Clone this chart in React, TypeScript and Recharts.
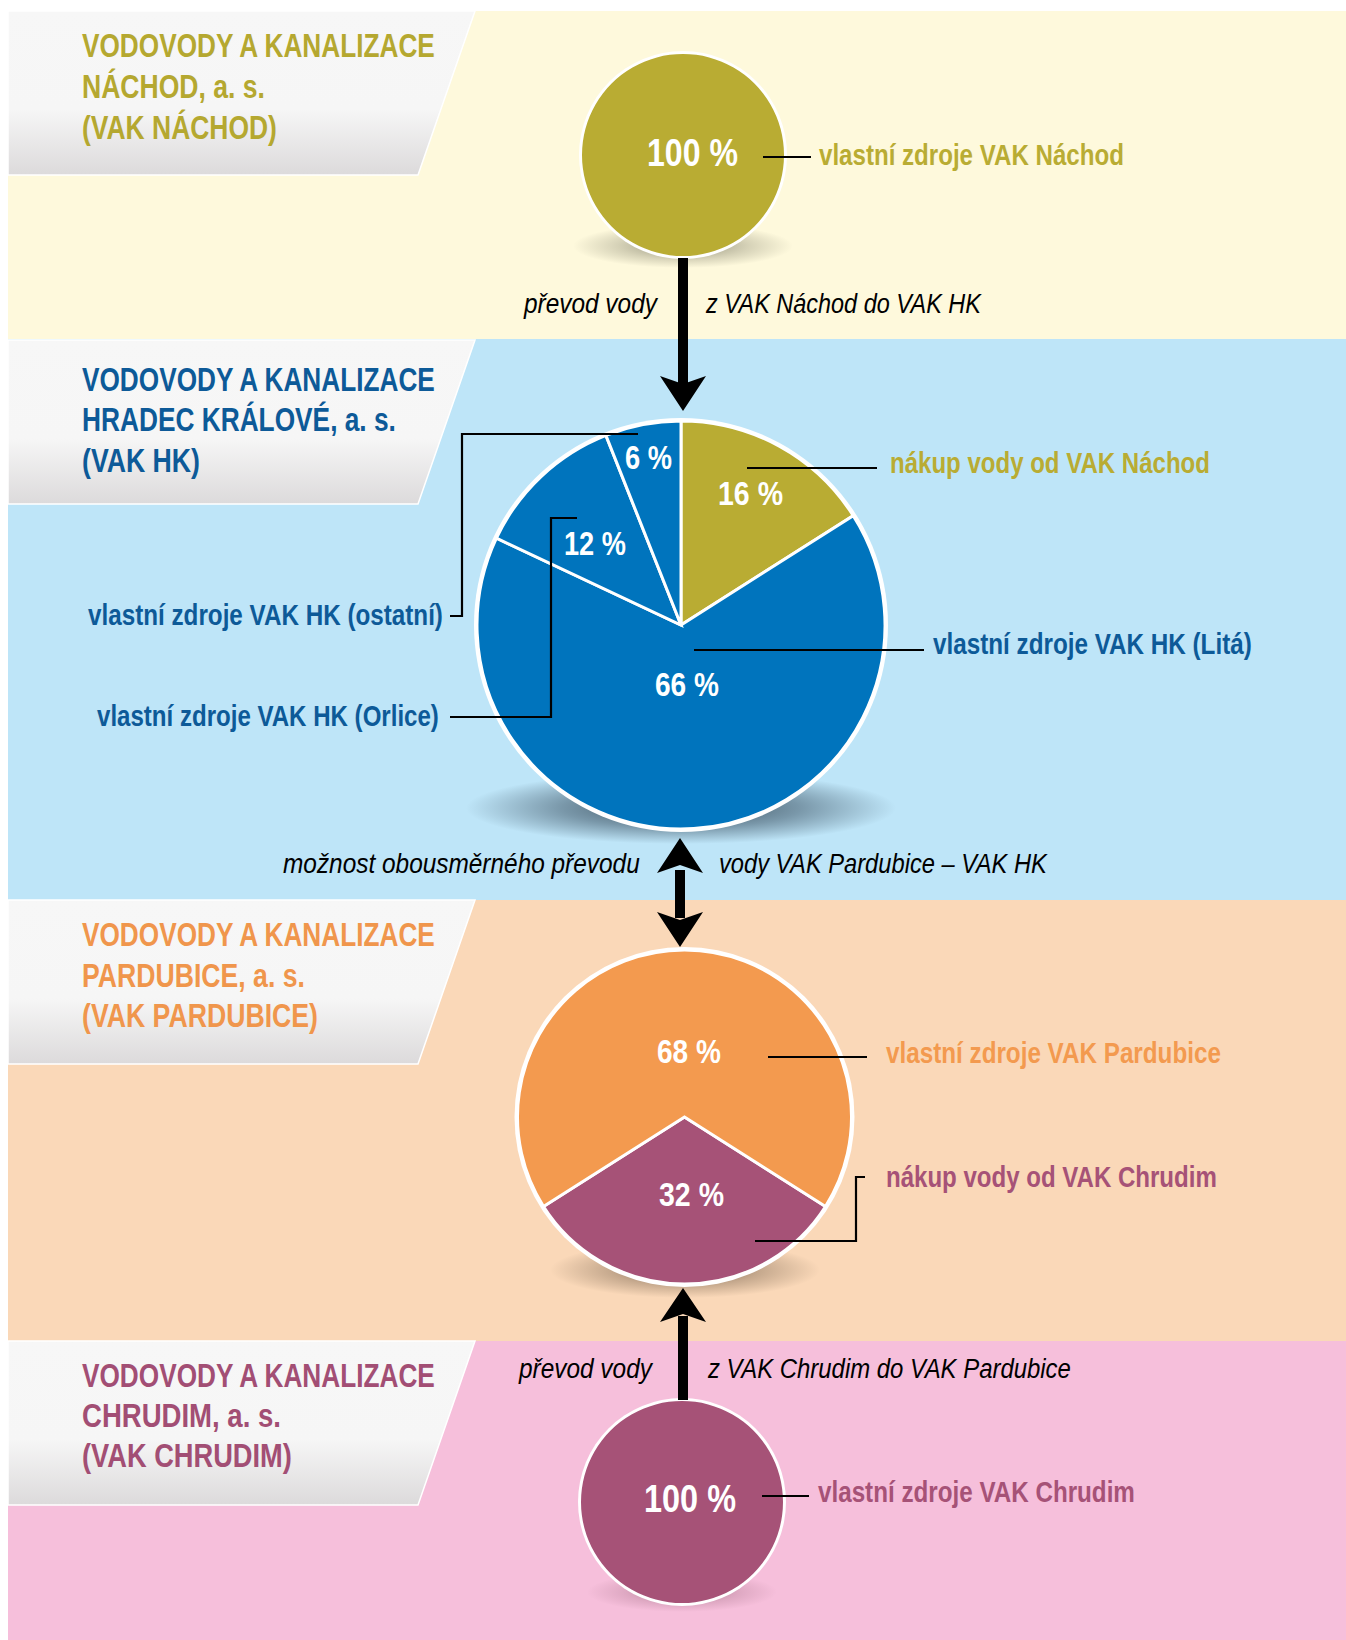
import React, { useLayoutEffect, useRef, useState } from 'react';
import { PieChart, Pie, Cell } from 'recharts';

// ---------- DATA ----------
const NACHOD_CATEGORIES = ['vlastní zdroje VAK Náchod'];
const NACHOD_VALUES = [100];

const HK_CATEGORIES = [
  'nákup vody od VAK Náchod',
  'vlastní zdroje VAK HK (Litá)',
  'vlastní zdroje VAK HK (Orlice)',
  'vlastní zdroje VAK HK (ostatní)',
];
const HK_VALUES = [16, 66, 12, 6];

const PARDUBICE_CATEGORIES = ['nákup vody od VAK Chrudim', 'vlastní zdroje VAK Pardubice'];
const PARDUBICE_VALUES = [32, 68];

const CHRUDIM_CATEGORIES = ['vlastní zdroje VAK Chrudim'];
const CHRUDIM_VALUES = [100];

const TITLE_NACHOD = ['VODOVODY A KANALIZACE', 'NÁCHOD, a. s.', '(VAK NÁCHOD)'];
const TITLE_HK = ['VODOVODY A KANALIZACE', 'HRADEC KRÁLOVÉ, a. s.', '(VAK HK)'];
const TITLE_PARDUBICE = ['VODOVODY A KANALIZACE', 'PARDUBICE, a. s.', '(VAK PARDUBICE)'];
const TITLE_CHRUDIM = ['VODOVODY A KANALIZACE', 'CHRUDIM, a. s.', '(VAK CHRUDIM)'];

const NOTE_TOP = ['převod vody', 'z VAK Náchod do VAK HK'];
const NOTE_MID = ['možnost obousměrného převodu', 'vody VAK Pardubice – VAK HK'];
const NOTE_BOTTOM = ['převod vody', 'z VAK Chrudim do VAK Pardubice'];

// ---------- STYLE ----------
const OLIVE = '#B9AC33';
const BLUE = '#0074BD';
const DARKBLUE = '#0D5A98';
const ORANGE = '#F39A4F';
const PLUM = '#A65277';
const FONT = "'Liberation Sans Narrow', 'Liberation Sans', Arial, sans-serif";

const toRows = (cats: string[], vals: number[]) => cats.map((name, i) => ({ name, value: vals[i] }));
const pct = (v: number) => `${v} %`;

const nachodData = toRows(NACHOD_CATEGORIES, NACHOD_VALUES);
const hkData = toRows(HK_CATEGORIES, HK_VALUES);
const pardData = toRows(PARDUBICE_CATEGORIES, PARDUBICE_VALUES);
const chrudimData = toRows(CHRUDIM_CATEGORIES, CHRUDIM_VALUES);

const HK_COLORS = [OLIVE, BLUE, BLUE, BLUE];
const PARD_COLORS = [PLUM, ORANGE];

// plum wedge centred on 6 o'clock
const pardTotal = PARDUBICE_VALUES.reduce((a, b) => a + b, 0);
const pardStart = 90 - (180 - (PARDUBICE_VALUES[0] / pardTotal) * 180);

const W = 1346;
const H = 1640;

type TProps = {
  x: number; y: number; w: number; size: number; fill: string;
  weight?: string | number; italic?: boolean; children: string;
};
// text squeezed horizontally to the measured width of the reference
const T = ({ x, y, w, size, fill, weight = 'bold', italic = false, children }: TProps) => {
  const ref = useRef<SVGTextElement>(null);
  const [sx, setSx] = useState(1);
  useLayoutEffect(() => {
    if (ref.current) {
      const n = ref.current.getComputedTextLength();
      if (n > 0) setSx(w / n);
    }
  }, [w, children, size]);
  return (
    <text
      ref={ref}
      x={0}
      y={0}
      transform={`translate(${x},${y}) scale(${sx},1)`}
      fontSize={size}
      fill={fill}
      fontWeight={weight}
      fontStyle={italic ? 'italic' : 'normal'}
      fontFamily={FONT}
    >
      {children}
    </text>
  );
};

const Head = ({ cx, tip, base, dir }: { cx: number; tip: number; base: number; dir: 1 | -1 }) => {
  // dir=1 points down (tip below base)
  const notch = base + dir * 8;
  return <polygon points={`${cx - 23},${base} ${cx},${notch} ${cx + 23},${base} ${cx},${tip}`} fill="#000" />;
};

const HeaderBox = ({ top }: { top: number }) => (
  <polygon
    points={`8,${top} 475,${top} 418,${top + 164} 8,${top + 164}`}
    fill="url(#hdrGrad)"
    stroke="#ffffff"
    strokeWidth={1.5}
  />
);

const HeaderText = ({ lines, color, baselines, widths }: { lines: string[]; color: string; baselines: number[]; widths: number[] }) => (
  <g>
    {lines.map((l, i) => (
      <T key={i} x={82} y={baselines[i]} w={widths[i]} size={34} fill={color}>{l}</T>
    ))}
  </g>
);

const Shadow = ({ cx, cy, rx, ry, id }: { cx: number; cy: number; rx: number; ry: number; id: string }) => (
  <ellipse cx={cx} cy={cy} rx={rx} ry={ry} fill={`url(#${id})`} />
);

export default function App() {
  return (
    <div style={{ position: 'absolute', left: 0, top: 0, width: W, height: H, overflow: 'hidden' }}>
      {/* background layer */}
      <svg width={W} height={H} style={{ position: 'absolute', left: 0, top: 0 }}>
        <defs>
          <linearGradient id="hdrGrad" x1="0" y1="0" x2="0" y2="1">
            <stop offset="0" stopColor="#F7F7F7" />
            <stop offset="0.6" stopColor="#F6F6F6" />
            <stop offset="1" stopColor="#DCDADB" />
          </linearGradient>
          <radialGradient id="shGray" cx="0.5" cy="0.5" r="0.5">
            <stop offset="0" stopColor="#3a3a2a" stopOpacity="0.55" />
            <stop offset="0.6" stopColor="#3a3a2a" stopOpacity="0.2" />
            <stop offset="1" stopColor="#3a3a2a" stopOpacity="0" />
          </radialGradient>
          <radialGradient id="shBlue" cx="0.5" cy="0.5" r="0.5">
            <stop offset="0" stopColor="#24333f" stopOpacity="0.9" />
            <stop offset="0.55" stopColor="#34495a" stopOpacity="0.5" />
            <stop offset="1" stopColor="#34495a" stopOpacity="0" />
          </radialGradient>
          <radialGradient id="shBrown" cx="0.5" cy="0.5" r="0.5">
            <stop offset="0" stopColor="#3a2a1a" stopOpacity="0.75" />
            <stop offset="0.55" stopColor="#4a3a2a" stopOpacity="0.3" />
            <stop offset="1" stopColor="#4a3a2a" stopOpacity="0" />
          </radialGradient>
          <radialGradient id="shPink" cx="0.5" cy="0.5" r="0.5">
            <stop offset="0" stopColor="#5a2a3a" stopOpacity="0.45" />
            <stop offset="0.6" stopColor="#5a2a3a" stopOpacity="0.15" />
            <stop offset="1" stopColor="#5a2a3a" stopOpacity="0" />
          </radialGradient>
        </defs>
        <rect x={8} y={11} width={W - 8} height={328} fill="#FEF9DC" />
        <rect x={8} y={339} width={W - 8} height={561} fill="#BEE5F8" />
        <rect x={8} y={900} width={W - 8} height={441} fill="#FAD8B8" />
        <rect x={8} y={1341} width={W - 8} height={H - 1341} fill="#F6BFDB" />

        <HeaderBox top={11} />
        <HeaderBox top={340} />
        <HeaderBox top={900} />
        <HeaderBox top={1341} />

        <Shadow cx={683} cy={246} rx={110} ry={22} id="shGray" />
        <Shadow cx={681} cy={808} rx={215} ry={36} id="shBlue" />
        <Shadow cx={685} cy={1270} rx={135} ry={28} id="shBrown" />
        <Shadow cx={682} cy={1592} rx={95} ry={20} id="shPink" />

        <circle cx={683} cy={155} r={104} fill="#fff" />
        <circle cx={681} cy={625} r={207} fill="#fff" />
        <circle cx={684.5} cy={1117} r={170} fill="#fff" />
        <circle cx={682} cy={1502} r={104} fill="#fff" />
      </svg>

      {/* chart layer */}
      <div style={{ position: 'absolute', left: 0, top: 0 }}>
        <PieChart width={W} height={H} margin={{ top: 0, right: 0, bottom: 0, left: 0 }}>
          <Pie
            data={nachodData}
            dataKey="value"
            nameKey="name"
            cx={683}
            cy={155}
            outerRadius={101}
            startAngle={90}
            endAngle={-270}
            stroke="none"
            isAnimationActive={false}
          >
            {nachodData.map((_, i) => <Cell key={i} fill={OLIVE} />)}
          </Pie>
          <Pie
            data={hkData}
            dataKey="value"
            nameKey="name"
            cx={681}
            cy={625}
            outerRadius={204}
            startAngle={90}
            endAngle={-270}
            stroke="#ffffff"
            strokeWidth={3}
            isAnimationActive={false}
          >
            {hkData.map((_, i) => <Cell key={i} fill={HK_COLORS[i]} />)}
          </Pie>
          <Pie
            data={pardData}
            dataKey="value"
            nameKey="name"
            cx={684.5}
            cy={1117}
            outerRadius={167}
            startAngle={pardStart}
            endAngle={pardStart - 360}
            stroke="#ffffff"
            strokeWidth={3}
            isAnimationActive={false}
          >
            {pardData.map((_, i) => <Cell key={i} fill={PARD_COLORS[i]} />)}
          </Pie>
          <Pie
            data={chrudimData}
            dataKey="value"
            nameKey="name"
            cx={682}
            cy={1502}
            outerRadius={101}
            startAngle={90}
            endAngle={-270}
            stroke="none"
            isAnimationActive={false}
          >
            {chrudimData.map((_, i) => <Cell key={i} fill={PLUM} />)}
          </Pie>
        </PieChart>
      </div>

      {/* annotation layer */}
      <svg width={W} height={H} style={{ position: 'absolute', left: 0, top: 0, pointerEvents: 'none' }}>
        <HeaderText lines={TITLE_NACHOD} color="#B5A830" baselines={[57, 98, 139]} widths={[353, 183, 195]} />
        <HeaderText lines={TITLE_HK} color={DARKBLUE} baselines={[391, 431, 472]} widths={[353, 314, 118]} />
        <HeaderText lines={TITLE_PARDUBICE} color="#F0964C" baselines={[946, 987, 1027]} widths={[353, 223, 236]} />
        <HeaderText lines={TITLE_CHRUDIM} color="#A24E74" baselines={[1387, 1427, 1467]} widths={[353, 199, 210]} />

        {/* arrows */}
        <rect x={678} y={258} width={10} height={127} fill="#000" />
        <Head cx={683} tip={411} base={376} dir={1} />

        <rect x={675} y={870} width={10} height={48} fill="#000" />
        <Head cx={680} tip={838} base={873} dir={-1} />
        <Head cx={680} tip={947} base={912} dir={1} />

        <rect x={678} y={1316} width={10} height={84} fill="#000" />
        <Head cx={683} tip={1288} base={1322} dir={-1} />

        {/* leader lines */}
        <g stroke="#000" strokeWidth={2.2} fill="none">
          <polyline points="763,157 811,157" />
          <polyline points="747,468 877,468" />
          <polyline points="694,650 924,650" />
          <polyline points="450,616 462,616 462,434 638,434" />
          <polyline points="450,717 551,717 551,518 577,518" />
          <polyline points="768,1057 867,1057" />
          <polyline points="755,1241 856,1241 856,1177 865,1177" />
          <polyline points="762,1496 809,1496" />
        </g>

        {/* percentage labels */}
        <T x={647} y={166} w={91} size={38} fill="#fff">{pct(NACHOD_VALUES[0])}</T>
        <T x={718} y={505} w={65} size={33} fill="#fff">{pct(HK_VALUES[0])}</T>
        <T x={655} y={696} w={64} size={33} fill="#fff">{pct(HK_VALUES[1])}</T>
        <T x={564} y={555} w={62} size={33} fill="#fff">{pct(HK_VALUES[2])}</T>
        <T x={625} y={469} w={47} size={33} fill="#fff">{pct(HK_VALUES[3])}</T>
        <T x={657} y={1063} w={64} size={33} fill="#fff">{pct(PARDUBICE_VALUES[1])}</T>
        <T x={659} y={1206} w={65} size={33} fill="#fff">{pct(PARDUBICE_VALUES[0])}</T>
        <T x={644} y={1512} w={92} size={38} fill="#fff">{pct(CHRUDIM_VALUES[0])}</T>

        {/* category labels */}
        <T x={819} y={165} w={305} size={29} fill={OLIVE}>{NACHOD_CATEGORIES[0]}</T>
        <T x={890} y={473} w={320} size={29} fill={OLIVE}>{HK_CATEGORIES[0]}</T>
        <T x={933} y={654} w={319} size={29} fill={DARKBLUE}>{HK_CATEGORIES[1]}</T>
        <T x={97} y={726} w={342} size={29} fill={DARKBLUE}>{HK_CATEGORIES[2]}</T>
        <T x={88} y={625} w={355} size={29} fill={DARKBLUE}>{HK_CATEGORIES[3]}</T>
        <T x={886} y={1063} w={335} size={29} fill={ORANGE}>{PARDUBICE_CATEGORIES[1]}</T>
        <T x={886} y={1187} w={331} size={29} fill={PLUM}>{PARDUBICE_CATEGORIES[0]}</T>
        <T x={818} y={1502} w={317} size={29} fill={PLUM}>{CHRUDIM_CATEGORIES[0]}</T>

        {/* transfer notes */}
        <T x={524} y={313} w={133} size={28} fill="#000" weight="normal" italic>{NOTE_TOP[0]}</T>
        <T x={706} y={313} w={275} size={28} fill="#000" weight="normal" italic>{NOTE_TOP[1]}</T>
        <T x={283} y={873} w={357} size={28} fill="#000" weight="normal" italic>{NOTE_MID[0]}</T>
        <T x={719} y={873} w={328} size={28} fill="#000" weight="normal" italic>{NOTE_MID[1]}</T>
        <T x={519} y={1378} w={133} size={28} fill="#000" weight="normal" italic>{NOTE_BOTTOM[0]}</T>
        <T x={708} y={1378} w={363} size={28} fill="#000" weight="normal" italic>{NOTE_BOTTOM[1]}</T>
      </svg>
    </div>
  );
}
